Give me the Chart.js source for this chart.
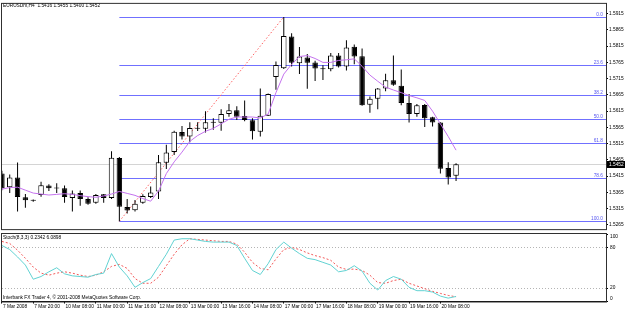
<!DOCTYPE html>
<html lang="en">
<head>
  <meta charset="UTF-8">
  <title>EURUSDm,H4</title>
  <script src="https://cdn.jsdelivr.net/npm/chart.js"></script>
  <style>
    body { margin: 0; background: #fff; }
    #wrap { position: relative; width: 625px; height: 311px; overflow: hidden; }
    canvas { position: absolute; left: 0; }
  </style>
</head>
<body>
  <div id="wrap">
    <canvas id="priceChart" width="625" height="233" style="top:0"></canvas>
    <canvas id="stochChart" width="625" height="79" style="top:232px"></canvas>
  </div>

  <script>
    // H4 bars, oldest first
    const openP = [1.5423, 1.5381, 1.5411, 1.5350, 1.5341, 1.5357, 1.5386, 1.5378, 1.5378, 1.5348,
      1.5363, 1.5345, 1.5333, 1.5359, 1.5348, 1.5471, 1.5320, 1.5310, 1.5333, 1.5351,
      1.5368, 1.5456, 1.5489, 1.5551, 1.5537, 1.5563, 1.5561, 1.5581, 1.5579, 1.5606,
      1.5618, 1.5600, 1.5587, 1.5552, 1.5601, 1.5720, 1.5747, 1.5845, 1.5762, 1.5780,
      1.5765, 1.5746, 1.5744, 1.5786, 1.5752, 1.5813, 1.5784, 1.5635, 1.5653, 1.5685,
      1.5710, 1.5693, 1.5640, 1.5606, 1.5634, 1.5596, 1.5580, 1.5440, 1.5416];
    const highP = [1.5432, 1.5420, 1.5457, 1.5360, 1.5343, 1.5398, 1.5390, 1.5393, 1.5386, 1.5371,
      1.5371, 1.5350, 1.5360, 1.5360, 1.5492, 1.5474, 1.5345, 1.5342, 1.5359, 1.5383,
      1.5480, 1.5512, 1.5555, 1.5569, 1.5581, 1.5581, 1.5615, 1.5593, 1.5621, 1.5637,
      1.5630, 1.5648, 1.5593, 1.5685, 1.5669, 1.5768, 1.5905, 1.5855, 1.5812, 1.5791,
      1.5770, 1.5756, 1.5794, 1.5794, 1.5833, 1.5820, 1.5808, 1.5660, 1.5686, 1.5730,
      1.5786, 1.5743, 1.5668, 1.5637, 1.5637, 1.5598, 1.5581, 1.5458, 1.5455];
    const lowP = [1.5372, 1.5363, 1.5306, 1.5318, 1.5336, 1.5352, 1.5369, 1.5363, 1.5333, 1.5306,
      1.5324, 1.5327, 1.5330, 1.5333, 1.5345, 1.5276, 1.5300, 1.5306, 1.5330, 1.5348,
      1.5345, 1.5437, 1.5480, 1.5528, 1.5519, 1.5554, 1.5549, 1.5558, 1.5555, 1.5598,
      1.5588, 1.5584, 1.5528, 1.5537, 1.5600, 1.5681, 1.5745, 1.5752, 1.5729, 1.5684,
      1.5708, 1.5711, 1.5738, 1.5749, 1.5740, 1.5759, 1.5632, 1.5610, 1.5621, 1.5676,
      1.5693, 1.5633, 1.5580, 1.5598, 1.5566, 1.5568, 1.5423, 1.5389, 1.5400];
    const closeP = [1.5378, 1.5411, 1.5351, 1.5341, 1.5339, 1.5387, 1.5378, 1.5377, 1.5351, 1.5362,
      1.5345, 1.5330, 1.5357, 1.5348, 1.5472, 1.5321, 1.5309, 1.5330, 1.5354, 1.5365,
      1.5458, 1.5488, 1.5552, 1.5537, 1.5563, 1.5561, 1.5581, 1.5579, 1.5606, 1.5618,
      1.5598, 1.5588, 1.5553, 1.5601, 1.5668, 1.5757, 1.5846, 1.5764, 1.5783, 1.5764,
      1.5746, 1.5744, 1.5786, 1.5752, 1.5811, 1.5783, 1.5633, 1.5653, 1.5685, 1.5710,
      1.5696, 1.5640, 1.5606, 1.5633, 1.5593, 1.5580, 1.5438, 1.5411, 1.5452];
    // moving average on the price window
    const maLine = [1.5375, 1.5380, 1.5381, 1.5372, 1.5363, 1.5360, 1.5357, 1.5359, 1.5361, 1.5359,
      1.5355, 1.5352, 1.5350, 1.5354, 1.5360, 1.5368, 1.5362, 1.5356, 1.5346, 1.5338,
      1.5369, 1.5423, 1.5459, 1.5489, 1.5522, 1.5540, 1.5553, 1.5562, 1.5576, 1.5590,
      1.5597, 1.5597, 1.5597, 1.5594, 1.5606, 1.5672, 1.5729, 1.5759, 1.5783, 1.5786,
      1.5777, 1.5765, 1.5765, 1.5771, 1.5773, 1.5776, 1.5753, 1.5726, 1.5707, 1.5689,
      1.5680, 1.5672, 1.5663, 1.5656, 1.5648, 1.5615, 1.5576, 1.5537, 1.5495];
    // Stoch(8,3,3)
    const stochMain = [83, 77, 66, 54, 33, 37, 44, 50, 41, 38,
      37, 36, 40, 42, 71, 51, 38, 21, 28, 34,
      52, 70, 91, 93, 93, 91, 89, 88, 88, 88,
      83, 64, 46, 40, 56, 77, 88, 79, 71, 64,
      62, 58, 54, 44, 46, 53, 45, 27, 17, 31,
      37, 33, 21, 16, 16, 14, 8, 5, 7.5];
    const stochSignal = [89, 86, 76, 64, 51, 42, 39, 42, 44, 42,
      39, 37, 39, 44, 52, 55, 49, 34, 27, 27,
      36, 53, 70, 84, 93, 92, 91, 90, 89, 89,
      85, 73, 58, 49, 47, 63, 77, 80, 77, 72,
      68, 65, 61, 51, 47.5, 48, 46, 39, 28, 27,
      31, 33, 27, 23, 19, 15, 12, 9, 7];

    const priceTicks = [1.5265, 1.5315, 1.5365, 1.5415, 1.5465, 1.5515, 1.5565,
      1.5615, 1.5665, 1.5715, 1.5765, 1.5815, 1.5865, 1.5915];
    const timeTickBars = [0, 4, 8, 12, 16, 20, 24, 28, 32, 36, 40, 44, 48, 52, 56];
    const timeLabels = ['7 Mar 2008', '7 Mar 20:00', '10 Mar 08:00', '11 Mar 00:00', '11 Mar 16:00',
      '12 Mar 08:00', '13 Mar 00:00', '13 Mar 16:00', '14 Mar 08:00', '17 Mar 00:00',
      '17 Mar 16:00', '18 Mar 08:00', '19 Mar 00:00', '19 Mar 16:00', '20 Mar 08:00'];
    const stochLevels = [0, 20, 80, 100];
    const fibLevels = [0, 23.6, 38.2, 50, 61.8, 78.6, 100];
    const fibLowBar = 15;
    const fibHighBar = 36;

    const X_MIN = 0.0128, X_MAX = 77.15;
    const P_MIN = 1.52521, P_MAX = 1.5945;
    const FONT = "'Liberation Sans', Arial, sans-serif";

    Chart.defaults.font.family = FONT;
    Chart.defaults.font.size = 4.8;
    Chart.defaults.color = '#000';
    Chart.defaults.animation = false;

    const barIdx = openP.map((_, i) => i);

    const framePlugin = {
      id: 'frame',
      afterDraw(chart) {
        const { ctx, chartArea: a } = chart;
        ctx.save();
        ctx.strokeStyle = '#303030';
        ctx.lineWidth = 1;
        ctx.strokeRect(a.left - 0.5, a.top - 0.5, a.right - a.left + 1, a.bottom - a.top + 1);
        ctx.restore();
      }
    };

    const fibPlugin = {
      id: 'fib',
      beforeDatasetsDraw(chart) {
        const { ctx, chartArea: a, scales: { x, y } } = chart;
        const hi = highP[fibHighBar], lo = lowP[fibLowBar];
        const x0 = x.getPixelForValue(fibLowBar);
        ctx.save();
        ctx.beginPath();
        ctx.rect(a.left, a.top, a.right - a.left, a.bottom - a.top);
        ctx.clip();

        // bid line
        const yb = y.getPixelForValue(closeP[closeP.length - 1]);
        ctx.strokeStyle = '#d4d4d4';
        ctx.lineWidth = 1;
        ctx.beginPath();
        ctx.moveTo(a.left, Math.round(yb) + 0.5);
        ctx.lineTo(a.right, Math.round(yb) + 0.5);
        ctx.stroke();

        // fibo levels
        ctx.font = '4.8px ' + FONT;
        ctx.textAlign = 'right';
        ctx.textBaseline = 'bottom';
        fibLevels.forEach(lv => {
          const py = Math.round(y.getPixelForValue(hi - (hi - lo) * lv / 100)) + 0.5;
          ctx.strokeStyle = 'rgb(112,112,255)';
          ctx.lineWidth = 1.2;
          ctx.beginPath();
          ctx.moveTo(x0, py);
          ctx.lineTo(a.right, py);
          ctx.stroke();
          ctx.fillStyle = '#5a5af0';
          ctx.fillText(lv.toFixed(1), a.right - 3, py - 0.5);
        });

        // dotted trend line low -> high
        ctx.strokeStyle = '#ff6262';
        ctx.lineWidth = 1;
        ctx.setLineDash([1.5, 2]);
        ctx.beginPath();
        ctx.moveTo(x0, y.getPixelForValue(lo));
        ctx.lineTo(x.getPixelForValue(fibHighBar), y.getPixelForValue(hi));
        ctx.stroke();
        ctx.restore();
      },
      afterDraw(chart) {
        const { ctx, chartArea: a, scales: { y } } = chart;
        const bid = closeP[closeP.length - 1];
        const yb = y.getPixelForValue(bid);
        ctx.save();
        ctx.fillStyle = '#000';
        ctx.fillRect(a.right + 1, Math.round(yb) - 3, 18, 7);
        ctx.fillStyle = '#fff';
        ctx.font = '4.8px ' + FONT;
        ctx.textBaseline = 'middle';
        ctx.fillText(bid.toFixed(4), a.right + 3, Math.round(yb) + 0.5);
        ctx.fillStyle = '#000';
        ctx.fillText('EURUSDm,H4  1.5416 1.5455 1.5400 1.5452', 3, 5.5);
        ctx.restore();
      }
    };

    const stochPlugin = {
      id: 'stochLevels',
      beforeDatasetsDraw(chart) {
        const { ctx, chartArea: a, scales: { y } } = chart;
        ctx.save();
        ctx.strokeStyle = '#b4b4b4';
        ctx.lineWidth = 1;
        ctx.setLineDash([1, 2]);
        [20, 80].forEach(v => {
          const py = Math.round(y.getPixelForValue(v)) + 0.5;
          ctx.beginPath();
          ctx.moveTo(a.left, py);
          ctx.lineTo(a.right, py);
          ctx.stroke();
        });
        ctx.restore();
      },
      afterDraw(chart) {
        const { ctx, chartArea: a, scales: { y } } = chart;
        ctx.save();
        ctx.font = '4.8px ' + FONT;
        ctx.fillStyle = '#000';
        ctx.textBaseline = 'middle';
        stochLevels.forEach(v => {
          const py = Math.min(Math.max(y.getPixelForValue(v), a.top + 3), a.bottom - 2.5);
          ctx.fillText(String(v), a.right + 4, py);
        });
        ctx.fillText('Stoch(8,3,3) 0.2342 6.0898', 3, 5.8);
        ctx.fillText('Interbank FX Trader 4, \u00a9 2001-2008 MetaQuotes Software Corp.', 3, 65.8);
        ctx.restore();
      }
    };

    new Chart(document.getElementById('priceChart'), {
      data: {
        datasets: [
          {
            type: 'line',
            label: 'MA',
            data: barIdx.map(i => ({ x: i, y: maLine[i] })),
            borderColor: '#c472ee',
            borderWidth: 1,
            pointRadius: 0,
            order: 1
          },
          {
            type: 'bar',
            label: 'body',
            data: barIdx.map(i => ({ x: i, y: [openP[i], closeP[i]] })),
            backgroundColor: barIdx.map(i => closeP[i] >= openP[i] ? '#fff' : '#000'),
            borderColor: '#000',
            borderWidth: 1,
            borderSkipped: false,
            maxBarThickness: 5.5,
            minBarLength: 1,
            grouped: false,
            order: 2
          },
          {
            type: 'bar',
            label: 'wick',
            data: barIdx.map(i => ({ x: i, y: [lowP[i], highP[i]] })),
            backgroundColor: '#000',
            maxBarThickness: 1,
            grouped: false,
            order: 3
          }
        ]
      },
      options: {
        responsive: false,
        layout: { padding: { left: 2, top: 1, bottom: 1, right: 0 } },
        plugins: { legend: { display: false }, tooltip: { enabled: false } },
        scales: {
          x: { type: 'linear', min: X_MIN, max: X_MAX, offset: false, display: false },
          y: {
            type: 'linear',
            position: 'right',
            min: P_MIN,
            max: P_MAX,
            afterFit(scale) { scale.width = 19; },
            afterBuildTicks(scale) { scale.ticks = priceTicks.map(v => ({ value: v })); },
            ticks: { padding: 1, autoSkip: false, callback: v => Number(v).toFixed(4) },
            grid: { drawOnChartArea: false, drawTicks: true, tickLength: 2, color: '#000' },
            border: { display: true, color: '#000' }
          }
        }
      },
      plugins: [fibPlugin, framePlugin]
    });

    new Chart(document.getElementById('stochChart'), {
      type: 'line',
      data: {
        datasets: [
          {
            label: 'Main',
            data: barIdx.map(i => ({ x: i, y: stochMain[i] })),
            borderColor: '#62d2d2',
            borderWidth: 1,
            pointRadius: 0
          },
          {
            label: 'Signal',
            data: barIdx.map(i => ({ x: i, y: stochSignal[i] })),
            borderColor: '#f25a5a',
            borderWidth: 1,
            borderDash: [2, 2],
            pointRadius: 0
          }
        ]
      },
      options: {
        responsive: false,
        layout: { padding: { left: 2, top: 2, bottom: 0, right: 0 } },
        plugins: { legend: { display: false }, tooltip: { enabled: false } },
        scales: {
          x: {
            type: 'linear',
            min: X_MIN,
            max: X_MAX,
            offset: false,
            afterFit(scale) { scale.height = 9.5; },
            afterBuildTicks(scale) { scale.ticks = timeTickBars.map(v => ({ value: v })); },
            ticks: {
              align: 'start',
              maxRotation: 0,
              autoSkip: false,
              padding: 0,
              labelOffset: 1,
              callback: (v, i) => timeLabels[i]
            },
            grid: { drawOnChartArea: false, drawTicks: true, tickLength: 2, color: '#000' },
            border: { display: true, color: '#000' }
          },
          y: {
            type: 'linear',
            position: 'right',
            min: 0,
            max: 100,
            afterFit(scale) { scale.width = 19; },
            afterBuildTicks(scale) { scale.ticks = stochLevels.map(v => ({ value: v })); },
            ticks: { display: false },
            grid: { drawOnChartArea: false, drawTicks: true, tickLength: 2, color: '#000' },
            border: { display: true, color: '#000' }
          }
        }
      },
      plugins: [stochPlugin, framePlugin]
    });
  </script>
</body>
</html>
